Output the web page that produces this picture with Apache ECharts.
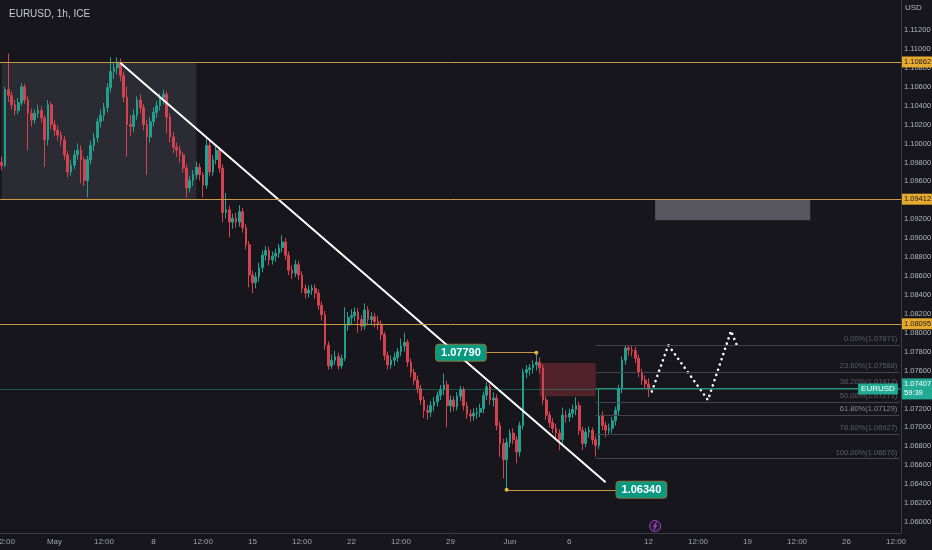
<!DOCTYPE html>
<html>
<head>
<meta charset="utf-8">
<script src="https://cdn.jsdelivr.net/npm/echarts@6/dist/echarts.min.js"></script>
<style>
  html, body { margin: 0; padding: 0; background: #17161d; }
  #chart { width: 932px; height: 550px; }
</style>
</head>
<body>
<div id="chart"></div>
<script>
// EURUSD, 4h bars from Apr 26 08:00 to Jun 12 00:00 (weekends skipped)
// each row: [open, close, low, high]
const candles = [
  [1.0980,1.0977,1.0972,1.0986],[1.0977,1.1057,1.0975,1.1060],[1.1057,1.1051,1.1044,1.1095],[1.1051,1.1041,1.1036,1.1055],[1.1041,1.1035,1.1030,1.1046],
  [1.1035,1.1043,1.1031,1.1048],[1.1043,1.1060,1.1040,1.1064],[1.1060,1.1046,1.1042,1.1063],[1.1046,1.1032,1.0993,1.1050],[1.1032,1.1025,1.1018,1.1037],
  [1.1025,1.1032,1.1021,1.1036],[1.1032,1.1035,1.1027,1.1041],[1.1035,1.1027,1.1022,1.1039],[1.1027,1.1004,1.0975,1.1030],[1.1004,1.1041,1.0998,1.1046],
  [1.1041,1.1020,1.1015,1.1044],[1.1020,1.1014,1.1008,1.1025],[1.1014,1.1009,1.1003,1.1019],[1.1009,1.1004,1.0998,1.1013],[1.1004,1.0988,1.0983,1.1008],
  [1.0988,1.0970,1.0964,1.0992],[1.0970,1.0977,1.0966,1.0983],[1.0977,1.0988,1.0973,1.0993],[1.0988,1.0993,1.0983,1.1000],[1.0993,1.0983,1.0958,1.0998],
  [1.0983,1.0961,1.0955,1.0986],[1.0961,1.0983,1.0943,1.0987],[1.0983,1.0998,1.0978,1.1003],[1.0998,1.1006,1.0992,1.1011],[1.1006,1.1023,1.1001,1.1027],
  [1.1023,1.1030,1.1017,1.1036],[1.1030,1.1038,1.1024,1.1043],[1.1038,1.1059,1.1033,1.1064],[1.1059,1.1076,1.1054,1.1091],[1.1076,1.1080,1.1068,1.1085],
  [1.1080,1.1086,1.1073,1.1091],[1.1086,1.1072,1.1066,1.1090],[1.1072,1.1049,1.1044,1.1076],[1.1049,1.1020,1.0986,1.1060],[1.1020,1.1018,1.1008,1.1030],
  [1.1018,1.1030,1.1012,1.1036],[1.1030,1.1046,1.1025,1.1050],[1.1046,1.1038,1.1032,1.1052],[1.1038,1.1020,1.1014,1.1042],[1.1020,1.1007,1.0967,1.1025],
  [1.1007,1.1023,1.1001,1.1028],[1.1023,1.1033,1.1018,1.1038],[1.1033,1.1040,1.1027,1.1045],[1.1040,1.1048,1.1035,1.1053],[1.1048,1.1052,1.1041,1.1057],
  [1.1052,1.1028,1.1011,1.1055],[1.1028,1.1007,1.1001,1.1032],[1.1007,1.0996,1.0990,1.1012],[1.0996,1.0993,1.0986,1.1001],[1.0993,1.0988,1.0980,1.0998],
  [1.0988,1.0974,1.0969,1.0991],[1.0974,1.0953,1.0943,1.0978],[1.0953,1.0961,1.0948,1.0966],[1.0961,1.0967,1.0955,1.0972],[1.0967,1.0975,1.0962,1.0981],
  [1.0975,1.0967,1.0961,1.0979],[1.0967,1.0956,1.0943,1.0970],[1.0956,1.0998,1.0952,1.1006],[1.0998,1.0970,1.0965,1.1003],[1.0970,1.0983,1.0966,1.0988],
  [1.0983,1.0993,1.0978,1.0998],[1.0993,1.0974,1.0969,1.0996],[1.0974,1.0927,1.0917,1.0978],[1.0927,1.0930,1.0921,1.0948],[1.0930,1.0917,1.0901,1.0934],
  [1.0917,1.0921,1.0910,1.0926],[1.0921,1.0917,1.0911,1.0927],[1.0917,1.0928,1.0912,1.0935],[1.0928,1.0911,1.0906,1.0932],[1.0911,1.0893,1.0888,1.0915],
  [1.0893,1.0861,1.0848,1.0897],[1.0861,1.0853,1.0842,1.0866],[1.0853,1.0859,1.0847,1.0864],[1.0859,1.0869,1.0854,1.0874],[1.0869,1.0882,1.0864,1.0887],
  [1.0882,1.0887,1.0876,1.0892],[1.0887,1.0877,1.0871,1.0891],[1.0877,1.0881,1.0872,1.0886],[1.0881,1.0884,1.0875,1.0889],[1.0884,1.0890,1.0879,1.0894],
  [1.0890,1.0896,1.0885,1.0903],[1.0896,1.0882,1.0877,1.0900],[1.0882,1.0866,1.0861,1.0886],[1.0866,1.0863,1.0857,1.0871],[1.0863,1.0872,1.0859,1.0877],
  [1.0872,1.0861,1.0856,1.0876],[1.0861,1.0847,1.0842,1.0865],[1.0847,1.0842,1.0836,1.0851],[1.0842,1.0845,1.0837,1.0850],[1.0845,1.0847,1.0840,1.0851],
  [1.0847,1.0842,1.0836,1.0851],[1.0842,1.0829,1.0824,1.0846],[1.0829,1.0819,1.0813,1.0833],[1.0819,1.0787,1.0782,1.0823],[1.0787,1.0765,1.0761,1.0791],
  [1.0765,1.0771,1.0762,1.0777],[1.0771,1.0775,1.0766,1.0781],[1.0775,1.0765,1.0761,1.0779],[1.0765,1.0773,1.0762,1.0777],[1.0773,1.0808,1.0770,1.0827],
  [1.0808,1.0816,1.0802,1.0822],[1.0816,1.0818,1.0809,1.0825],[1.0818,1.0822,1.0812,1.0827],[1.0822,1.0814,1.0800,1.0826],[1.0814,1.0807,1.0802,1.0819],
  [1.0807,1.0824,1.0803,1.0831],[1.0824,1.0814,1.0808,1.0828],[1.0814,1.0817,1.0808,1.0822],[1.0817,1.0812,1.0806,1.0821],[1.0812,1.0809,1.0803,1.0818],
  [1.0809,1.0798,1.0792,1.0813],[1.0798,1.0776,1.0771,1.0801],[1.0776,1.0766,1.0761,1.0780],[1.0766,1.0771,1.0762,1.0776],[1.0771,1.0774,1.0765,1.0779],
  [1.0774,1.0780,1.0769,1.0784],[1.0780,1.0786,1.0775,1.0794],[1.0786,1.0790,1.0780,1.0800],[1.0790,1.0769,1.0764,1.0793],[1.0769,1.0758,1.0753,1.0773],
  [1.0758,1.0750,1.0745,1.0762],[1.0750,1.0741,1.0736,1.0755],[1.0741,1.0729,1.0724,1.0745],[1.0729,1.0718,1.0710,1.0733],[1.0718,1.0716,1.0708,1.0724],
  [1.0716,1.0723,1.0711,1.0728],[1.0723,1.0727,1.0717,1.0732],[1.0727,1.0734,1.0722,1.0738],[1.0734,1.0740,1.0729,1.0745],[1.0740,1.0745,1.0734,1.0757],
  [1.0745,1.0723,1.0700,1.0749],[1.0723,1.0729,1.0716,1.0734],[1.0729,1.0722,1.0717,1.0733],[1.0722,1.0733,1.0718,1.0737],[1.0733,1.0740,1.0728,1.0744],
  [1.0740,1.0723,1.0718,1.0743],[1.0723,1.0714,1.0709,1.0727],[1.0714,1.0712,1.0706,1.0719],[1.0712,1.0715,1.0707,1.0720],[1.0715,1.0716,1.0709,1.0721],
  [1.0716,1.0720,1.0711,1.0725],[1.0720,1.0734,1.0715,1.0738],[1.0734,1.0743,1.0729,1.0748],[1.0743,1.0729,1.0724,1.0746],[1.0729,1.0731,1.0722,1.0737],
  [1.0731,1.0702,1.0697,1.0735],[1.0702,1.0683,1.0669,1.0706],[1.0683,1.0666,1.0646,1.0688],[1.0666,1.0684,1.0634,1.0689],[1.0684,1.0694,1.0679,1.0698],
  [1.0694,1.0687,1.0682,1.0699],[1.0687,1.0674,1.0662,1.0691],[1.0674,1.0702,1.0669,1.0706],[1.0702,1.0758,1.0698,1.0762],[1.0758,1.0761,1.0752,1.0766],
  [1.0761,1.0763,1.0755,1.0767],[1.0763,1.0766,1.0757,1.0771],[1.0766,1.0769,1.0760,1.0779],[1.0769,1.0763,1.0757,1.0774],[1.0763,1.0729,1.0724,1.0767],
  [1.0729,1.0713,1.0708,1.0733],[1.0713,1.0705,1.0700,1.0717],[1.0705,1.0699,1.0694,1.0710],[1.0699,1.0694,1.0689,1.0704],[1.0694,1.0687,1.0676,1.0698],
  [1.0687,1.0713,1.0683,1.0721],[1.0713,1.0711,1.0705,1.0718],[1.0711,1.0715,1.0706,1.0720],[1.0715,1.0719,1.0710,1.0724],[1.0719,1.0723,1.0713,1.0732],
  [1.0723,1.0697,1.0692,1.0727],[1.0697,1.0683,1.0676,1.0701],[1.0683,1.0695,1.0679,1.0699],[1.0695,1.0697,1.0689,1.0701],[1.0697,1.0687,1.0682,1.0700],
  [1.0687,1.0681,1.0669,1.0691],[1.0681,1.0713,1.0677,1.0740],[1.0713,1.0702,1.0697,1.0717],[1.0702,1.0697,1.0690,1.0706],[1.0697,1.0699,1.0692,1.0704],
  [1.0699,1.0707,1.0694,1.0711],[1.0707,1.0718,1.0702,1.0722],[1.0718,1.0741,1.0713,1.0745],[1.0741,1.0771,1.0736,1.0775],[1.0771,1.0784,1.0766,1.0787],
  [1.0784,1.0782,1.0776,1.0787],[1.0782,1.0781,1.0775,1.0786],[1.0781,1.0773,1.0768,1.0785],[1.0773,1.0758,1.0753,1.0777],[1.0758,1.0750,1.0745,1.0762],
  [1.0750,1.0746,1.0741,1.0755],[1.0746,1.07407,1.0732,1.0752]
];

const barCount = 273;   // visible 4h slots incl. empty future space
const tickIdx  = [1, 16, 31, 46, 61, 76, 91, 106, 121, 136, 154, 172, 196, 211, 226, 241, 256, 271];
const tickText = ['12:00','May','12:00','8','12:00','15','12:00','22','12:00','29','Jun','6','12','12:00','19','12:00','26','12:00'];
const priceTicks = [1.060,1.062,1.064,1.066,1.068,1.070,1.072,1.074,1.076,1.078,1.080,1.082,1.084,1.086,
                    1.088,1.090,1.092,1.094,1.096,1.098,1.100,1.102,1.104,1.106,1.108,1.110,1.112];

const levels = [1.10862, 1.09412, 1.08095];
const lastPrice = 1.07407;
const fibRange = [180, 272];
const fibLevels = [1.07871, 1.07588, 1.07412, 1.07271, 1.07129, 1.06927, 1.06670];
const fibText = ['0.00%(1.07871)','23.60%(1.07588)','38.20%(1.07412)','50.00%(1.07271)','61.80%(1.07129)','78.60%(1.06927)','100.00%(1.06670)'];
const trendLine = [[36, 1.1085], [183, 1.0642]];
const projection = [[197, 1.0738], [202, 1.0787], [214, 1.0729], [221, 1.0802], [223, 1.0785]];
const swingHigh = [147, 162, 1.0779];
const swingLow = [153, 186, 1.0634];
const rangeBox = [0, 59, 1.10862, 1.09412];
const targetBox = [198, 245, 1.09412, 1.0919];
const supplyBox = [163, 180, 1.0768, 1.0733];

const FONT = '"Liberation Sans",Arial,sans-serif';
const AXIS_FS = 7.5;
const ORANGE = '#c99a3f';
const TEAL = '#22ab94';

const chart = echarts.init(document.getElementById('chart'));

const markLines = [];
levels.forEach(v => markLines.push({
  yAxis: v,
  lineStyle: { color: ORANGE, width: 1, type: 'solid' },
  label: { show: true, position: 'end', distance: 1, formatter: v.toFixed(5),
           backgroundColor: '#e6ab2e', color: '#1b1a1f', fontSize: AXIS_FS, fontFamily: FONT, padding: [2, 1, 1, 2] }
}));
markLines.push({
  yAxis: lastPrice,
  lineStyle: { color: 'rgba(34,171,148,0.45)', width: 1, type: 'solid' },
  label: { show: true, position: 'end', distance: 1, formatter: lastPrice.toFixed(5) + '\n59:39',
           backgroundColor: TEAL, color: '#fff', fontSize: AXIS_FS, lineHeight: 9, fontFamily: FONT, padding: [2, 1, 1, 2] }
});
fibLevels.forEach((v, i) => markLines.push([
  { coord: [fibRange[0], v],
    lineStyle: { color: i === 2 ? '#2a8c7e' : '#45444c', width: 1, type: 'solid' },
    label: { show: true, position: 'insideEndTop', distance: 2, formatter: fibText[i],
             color: i === 4 ? '#878a94' : '#5b5e68', fontSize: 7.5, fontFamily: FONT } },
  { coord: [fibRange[1], v] }
]));
const priceTag = { show: true, backgroundColor: '#089981', color: '#fff', fontWeight: 'bold', fontSize: 11,
                   fontFamily: FONT, padding: [3, 5, 2, 5], borderRadius: 3,
                   borderColor: 'rgba(230,190,80,0.55)', borderWidth: 1, distance: 1 };
markLines.push([
  { coord: [swingHigh[0], swingHigh[2]], lineStyle: { color: ORANGE, width: 1, type: 'solid' },
    label: Object.assign({}, priceTag, { position: 'start', formatter: '1.07790' }) },
  { coord: [swingHigh[1], swingHigh[2]] }
]);
markLines.push([
  { coord: [swingLow[0], swingLow[2]], lineStyle: { color: ORANGE, width: 1, type: 'solid' },
    label: Object.assign({}, priceTag, { position: 'end', formatter: '1.06340' }) },
  { coord: [swingLow[1], swingLow[2]] }
]);

chart.setOption({
  animation: false,
  backgroundColor: '#17161d',
  title: {
    text: 'EURUSD, 1h, ICE', left: 4, top: 4,
    textStyle: { color: '#c8cad0', fontSize: 10, fontWeight: 'normal', fontFamily: FONT }
  },
  grid: { left: 0, right: 31, top: 0, bottom: 17, outerBoundsMode: 'none', containLabel: false },
  xAxis: {
    type: 'category',
    data: Array.from({ length: barCount }, (_, i) => i),
    boundaryGap: true,
    axisLine: { lineStyle: { color: '#3a3d47' } },
    axisTick: { show: false },
    splitLine: { show: false },
    axisLabel: {
      interval: (idx) => tickIdx.includes(idx),
      formatter: (val, idx) => tickText[tickIdx.indexOf(Number(val))] || '',
      color: '#a0a3ac', fontSize: 8, fontFamily: FONT, margin: 5
    }
  },
  yAxis: {
    type: 'value', position: 'right',
    min: 1.05884, max: 1.11517,
    axisLine: { show: true, lineStyle: { color: '#3a3d47' } },
    axisTick: { show: false },
    splitLine: { show: false },
    axisLabel: {
      customValues: priceTicks,
      formatter: v => v.toFixed(5),
      color: '#b2b5be', fontSize: AXIS_FS, fontFamily: FONT, margin: 3
    }
  },
  series: [
    {
      type: 'candlestick',
      data: candles,
      barWidth: 2.2,
      itemStyle: { color: '#22a08f', color0: '#d4424f', borderColor: '#22a08f', borderColor0: '#d4424f', borderWidth: 1 },
      markArea: {
        silent: true,
        data: [
          [{ coord: [rangeBox[0], rangeBox[2]], itemStyle: { color: 'rgba(120,123,134,0.22)' } }, { coord: [rangeBox[1], rangeBox[3]] }],
          [{ coord: [targetBox[0], targetBox[2]], itemStyle: { color: '#57565e' } }, { coord: [targetBox[1], targetBox[3]] }],
          [{ coord: [supplyBox[0], supplyBox[2]], itemStyle: { color: 'rgba(200,60,70,0.33)' } }, { coord: [supplyBox[1], supplyBox[3]] }]
        ]
      },
      markLine: { silent: true, symbol: ['none', 'none'], precision: 5, z: 10, data: markLines },
      markPoint: {
        silent: true, z: 11,
        data: [
          { coord: [swingHigh[1], swingHigh[2]], symbol: 'circle', symbolSize: 4, itemStyle: { color: '#e2b443' }, label: { show: false } },
          { coord: [swingLow[0], swingLow[2]], symbol: 'circle', symbolSize: 4, itemStyle: { color: '#e2b443' }, label: { show: false } },
          { coord: [barCount - 1, lastPrice], symbol: 'rect', symbolSize: 1, itemStyle: { color: 'transparent' },
            label: { show: true, position: 'left', distance: 1, formatter: 'EURUSD', backgroundColor: TEAL, color: '#fff',
                     fontSize: 8, fontFamily: FONT, padding: [2, 3, 1, 3] } }
        ]
      }
    },
    {
      type: 'line', data: trendLine, symbol: 'none', z: 5,
      lineStyle: { color: '#ffffff', width: 2 }
    },
    {
      type: 'line', data: projection, symbol: 'none', z: 5,
      lineStyle: { color: '#ffffff', width: 2.6, type: [0.01, 5.5], cap: 'round' }
    }
  ]
});

// "USD" header and the economic event marker under Jun 12
const ex = chart.convertToPixel({ xAxisIndex: 0 }, 198);
chart.setOption({
  graphic: [
    { type: 'text', left: 905, top: 4, style: { text: 'USD', fill: '#b2b5be', fontSize: 8, fontFamily: FONT } },
    { type: 'circle', shape: { cx: ex, cy: 526, r: 5.5 }, style: { fill: 'rgba(156,39,176,0.15)', stroke: '#9c40d0', lineWidth: 1 } },
    { type: 'polyline', shape: { points: [[ex + 1.5, 522], [ex - 1.5, 526.5], [ex + 1.5, 525.5], [ex - 1.5, 530]] },
      style: { stroke: '#b45ae0', lineWidth: 1, fill: 'none' } }
  ]
});
</script>
</body>
</html>
